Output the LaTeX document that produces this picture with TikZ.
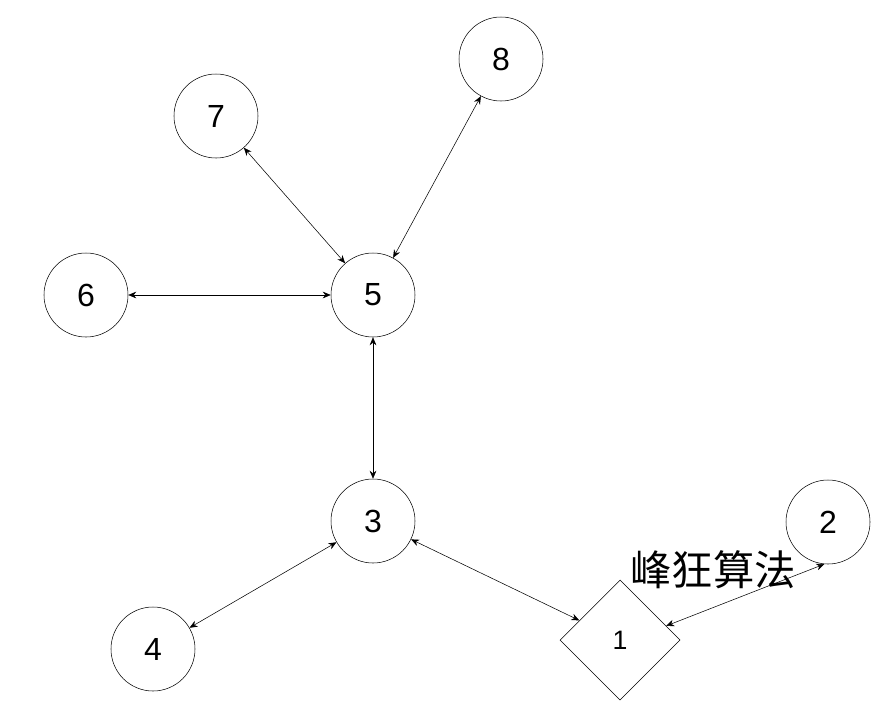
\documentclass[tikz,border=0pt]{standalone}
\usepackage{fontspec}
\setmainfont{Liberation Sans}
\newfontfamily\cjk{Noto Sans CJK SC}
\usetikzlibrary{shapes.geometric,arrows.meta}

\begin{document}
\begin{tikzpicture}[x=0.75pt,y=-0.75pt,<->,>={Stealth[length=6pt,width=5pt]},
    vertex/.style={circle, draw, minimum size=63pt, inner sep=0pt, font=\fontsize{24}{28}\selectfont},
    gate/.style={diamond, draw, minimum size=90pt, inner sep=0pt, font=\fontsize{20}{24}\selectfont}]

        \useasboundingbox (0,0) rectangle (891,726);

        % Nodes
        \node[vertex] (N-8) at (501,59) {8};
        \node[vertex] (N-7) at (216,116) {7};
        \node[vertex] (N-6) at (86,295) {6};
        \node[vertex] (N-5) at (373,295) {5};
        \node[vertex] (N-3) at (373,521) {3};
        \node[vertex] (N-2) at (828,522) {2};
        \node[vertex] (N-4) at (153,649) {4};
        \node[gate] (N-1) at (620,640) {1};

        % Label
        \node[font=\cjk\fontsize{31}{34}\selectfont] (peak) at (713,570) {峰狂算法};

        % Connections
        \foreach \i in {7,8,6,3}
            \draw (N-\i) -- (N-5);
        \draw (N-4) -- (N-3);
        \draw (N-3) -- (N-1);
        \draw (N-1.17) -- (N-2.265);

\end{tikzpicture}
\end{document}
